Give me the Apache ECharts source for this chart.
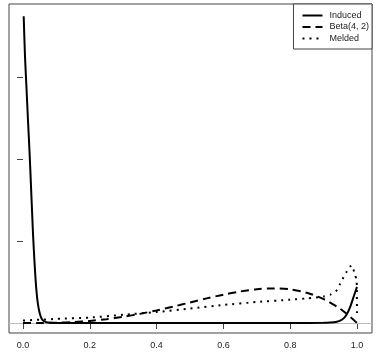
<!DOCTYPE html>
<html>
<head>
<meta charset="utf-8">
<script src="https://cdn.jsdelivr.net/npm/echarts@6/dist/echarts.min.js"></script>
<style>
  html, body { margin: 0; padding: 0; background: #fff; }
  #chart { width: 381px; height: 360px; }
</style>
</head>
<body>
<div id="chart"></div>
<script>
// values
const seriesNames = ["Induced", "Beta(4, 2)", "Melded"];
const xTicks = [0, 0.2, 0.4, 0.6, 0.8, 1.0];
const yTicks = [0, 5, 10, 15];

const inducedX = [0.002, 0.006, 0.01, 0.015, 0.02, 0.025, 0.03, 0.035, 0.04, 0.045, 0.05, 0.055, 0.06, 0.07, 0.08, 0.1, 0.2, 0.4, 0.6, 0.8, 0.9, 0.92, 0.94, 0.95, 0.96, 0.97, 0.98, 0.99, 1.0];
const inducedY = [18.7, 16.2, 14.5, 12.3, 10.2, 7.8, 5.4, 3.5, 2.0, 1.1, 0.6, 0.3, 0.15, 0.05, 0.02, 0, 0, 0, 0, 0, 0.01, 0.03, 0.08, 0.14, 0.28, 0.55, 1.0, 1.6, 2.2];

const betaX = [0, 0.05, 0.1, 0.15, 0.2, 0.25, 0.3, 0.35, 0.4, 0.45, 0.5, 0.55, 0.6, 0.65, 0.7, 0.75, 0.8, 0.85, 0.9, 0.95, 0.975, 0.99, 1.0];
const betaY = [0, 0.002, 0.018, 0.057, 0.128, 0.234, 0.378, 0.557, 0.768, 1.0, 1.25, 1.5, 1.73, 1.92, 2.06, 2.11, 2.05, 1.84, 1.46, 0.86, 0.46, 0.19, 0];

const meldedX = [0, 0.05, 0.1, 0.2, 0.3, 0.4, 0.5, 0.6, 0.7, 0.8, 0.85, 0.9, 0.92, 0.94, 0.95, 0.96, 0.97, 0.98, 0.985, 0.993, 0.999, 1.0];
const meldedY = [0.15, 0.2, 0.25, 0.33, 0.5, 0.67, 0.88, 1.1, 1.28, 1.42, 1.5, 1.62, 1.72, 2.0, 2.4, 2.8, 3.15, 3.45, 3.5, 3.0, 2.6, 0.3];

const zip = (xs, ys) => xs.map((x, i) => [x, ys[i]]);

const chart = echarts.init(document.getElementById("chart"));
const font = "Liberation Sans, Arial, sans-serif";
const lineStyles = [
  { color: "#000", width: 2, type: "solid" },
  { color: "#000", width: 2, type: [8, 5] },
  { color: "#000", width: 2, type: [2, 5] },
];

chart.setOption({
  animation: false,
  backgroundColor: "#fff",
  grid: [
    // plot box
    { left: 9, right: 9, top: 4, bottom: 27, show: true, borderColor: "#444", borderWidth: 1, backgroundColor: "transparent" },
    // tick area (0..1, 0..15)
    { left: 23, right: 24, top: 77, bottom: 37, show: false },
  ],
  xAxis: [
    { gridIndex: 0, type: "value", min: -0.042, max: 1.045, show: false },
    {
      gridIndex: 1, type: "value", min: 0, max: 1, interval: 0.2, position: "bottom", offset: 10,
      axisLine: { show: false }, splitLine: { show: false },
      axisTick: { show: true, length: 6, lineStyle: { color: "#444" } },
      axisLabel: { color: "#222", fontFamily: font, fontSize: 9, margin: 8, formatter: v => v.toFixed(1) },
    },
  ],
  yAxis: [
    { gridIndex: 0, type: "value", min: -0.61, max: 19.45, show: false },
    {
      gridIndex: 1, type: "value", min: 0, max: 15, interval: 5, position: "left", offset: 14,
      axisLine: { show: false }, splitLine: { show: false },
      axisTick: { show: true, length: 6, lineStyle: { color: "#444" } },
      axisLabel: { show: false },
    },
  ],
  legend: {
    data: seriesNames,
    orient: "vertical",
    right: 9,
    top: 4,
    align: "left",
    backgroundColor: "#fff",
    borderColor: "#444",
    borderWidth: 1,
    borderRadius: 0,
    padding: [7, 3, 6, 8],
    itemWidth: 20,
    itemHeight: 8,
    itemGap: 2.5,
    itemStyle: { opacity: 0 },
    textStyle: { color: "#222", fontFamily: font, fontSize: 9, padding: [0, 0, 0, 2] },
  },
  series: [
    {
      name: seriesNames[0], type: "line", xAxisIndex: 0, yAxisIndex: 0, showSymbol: false, symbol: "none",
      smooth: 0.3, clip: false, data: zip(inducedX, inducedY), lineStyle: lineStyles[0], itemStyle: { color: "#000" },
      z: 4,
      markLine: {
        silent: true, symbol: "none", label: { show: false },
        lineStyle: { color: "#bdbdbd", width: 1, type: "solid" },
        data: [{ yAxis: 0 }], z: 1,
      },
    },
    {
      name: seriesNames[1], type: "line", xAxisIndex: 0, yAxisIndex: 0, showSymbol: false, symbol: "none",
      smooth: 0.3, data: zip(betaX, betaY), lineStyle: lineStyles[1], itemStyle: { color: "#000" }, z: 3,
    },
    {
      name: seriesNames[2], type: "line", xAxisIndex: 0, yAxisIndex: 0, showSymbol: false, symbol: "none",
      smooth: 0.2, data: zip(meldedX, meldedY), lineStyle: lineStyles[2], itemStyle: { color: "#000" }, z: 3,
    },
  ],
});
</script>
</body>
</html>
